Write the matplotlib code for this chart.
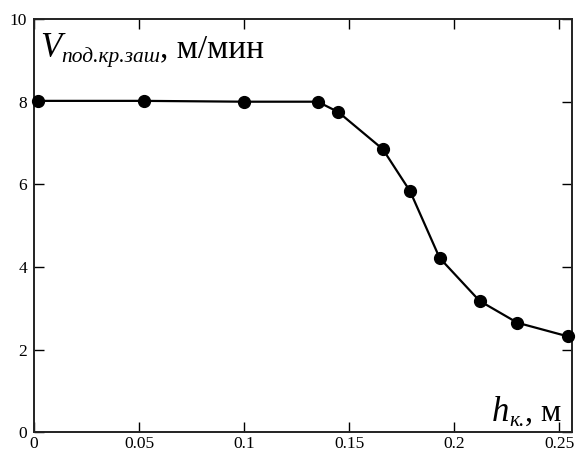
import matplotlib
matplotlib.use("Agg")
import matplotlib.pyplot as plt
from matplotlib.transforms import offset_copy

# глубина колеи h_к, м  и скорость подачи, м/мин
h_k = [0.002, 0.0524, 0.1, 0.135, 0.1448, 0.166, 0.179, 0.193, 0.212, 0.230, 0.254]
v_pod = [8.02, 8.02, 8.0, 8.0, 7.75, 6.85, 5.83, 4.22, 3.18, 2.65, 2.32]

x_ticks = [0, 0.05, 0.1, 0.15, 0.2, 0.25]
x_labels = ["0", "0.05", "0.1", "0.15", "0.2", "0.25"]
y_ticks = [0, 2, 4, 6, 8, 10]

plt.rcParams["font.family"] = "Liberation Serif"

fig = plt.figure(figsize=(5.76, 4.54), dpi=100)
ax = fig.add_axes([0.059, 0.048, 0.934, 0.91])

ax.plot(h_k, v_pod, color="black", lw=1.6, marker="o", ms=8.5,
        clip_on=False, zorder=3)

ax.set_xlim(0, 0.256)
ax.set_ylim(0, 10)
ax.set_xticks(x_ticks)
ax.set_xticklabels(x_labels)
ax.set_yticks(y_ticks)
ax.tick_params(direction="in", length=7, width=1, labelsize=12.5,
               top=True, right=True)
ax.tick_params(axis="x", pad=3)
ax.tick_params(axis="y", pad=5)
for sp in ax.spines.values():
    sp.set_linewidth(1.4)
    sp.set_color("#222222")


def label_run(parts, x, y):
    # parts: (text, size, style, baseline shift in px) placed one after another
    renderer = fig.canvas.get_renderer()
    dx = 0
    for s, size, style, dy in parts:
        tr = offset_copy(fig.transFigure, fig=fig, x=dx, y=dy, units="dots")
        t = fig.text(x, y, s, transform=tr, fontsize=size, fontstyle=style,
                     ha="left", va="baseline")
        dx += t.get_window_extent(renderer).width


label_run([("V", 25, "italic", 0),
           ("под.кр.заш", 15.5, "italic", -5),
           (", м/мин", 24, "normal", 0)],
          40 / 576, 1 - 57 / 454)
label_run([("h", 25, "italic", 0),
           ("к.", 15.5, "italic", -5),
           (", м", 23, "normal", 0)],
          492 / 576, 1 - 421 / 454)

fig.savefig("out.png", dpi=100)
